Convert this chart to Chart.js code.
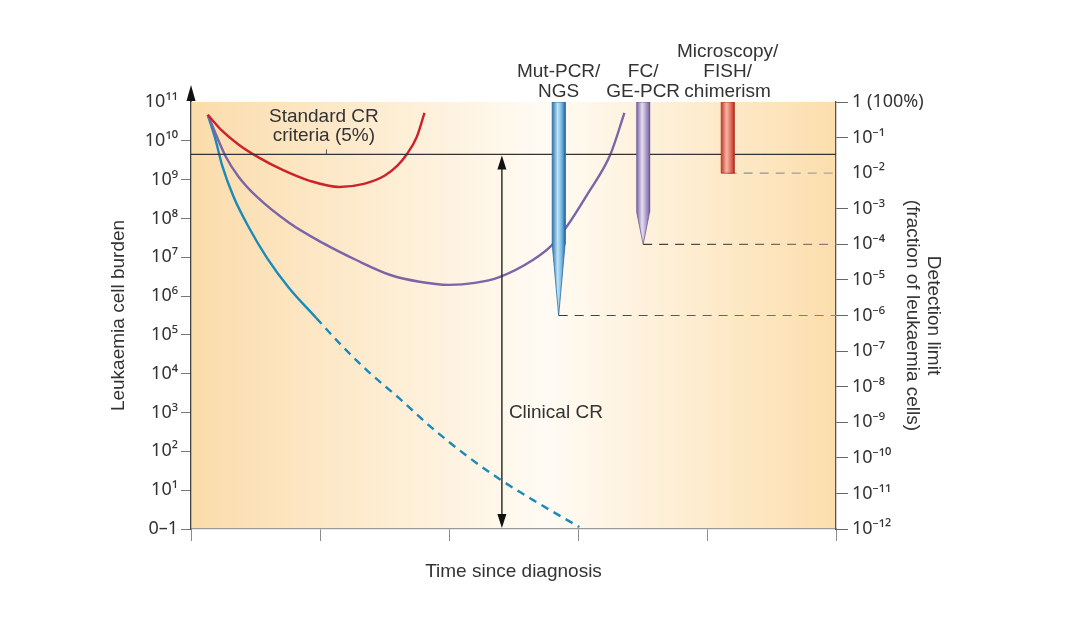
<!DOCTYPE html>
<html><head><meta charset="utf-8">
<script src="https://cdn.jsdelivr.net/npm/chart.js@4.4.1/dist/chart.umd.min.js"></script>
<style>html,body{margin:0;padding:0;background:#fff;}#wrap{width:1072px;height:624px;}</style>
</head><body><div id="wrap"><canvas id="c" width="1072" height="624"></canvas></div>
<script>
// ---------- data (log10 values) ----------
const leftTickLabels  = ['0–1','10¹','10²','10³','10⁴','10⁵','10⁶','10⁷','10⁸','10⁹','10¹⁰','10¹¹']; // log10 cells 0..11
const rightTickLabels = ['10⁻¹²','10⁻¹¹','10⁻¹⁰','10⁻⁹','10⁻⁸','10⁻⁷','10⁻⁶','10⁻⁵','10⁻⁴','10⁻³','10⁻²','10⁻¹','1 (100%)']; // log10 fraction -12..0
const standardCR = 9.65; // 5% of leukaemia burden (log10 cells)

const redTime = [0.13, 0.24, 0.37, 0.53, 0.71, 0.92, 1.15, 1.34, 1.50, 1.60, 1.67, 1.75, 1.81];
const redLog  = [10.67, 10.26, 9.90, 9.56, 9.25, 8.97, 8.81, 8.89, 9.10, 9.36, 9.64, 10.10, 10.72];

const purpleTime = [0.13, 0.27, 0.37, 0.51, 0.76, 1.02, 1.28, 1.54, 1.77, 2.00, 2.20, 2.39, 2.65, 2.80, 2.91, 3.07, 3.25, 3.36];
const purpleLog  = [10.67, 9.59, 9.07, 8.56, 7.89, 7.37, 6.93, 6.55, 6.37, 6.29, 6.34, 6.49, 6.93, 7.32, 7.78, 8.61, 9.64, 10.72];

const blueTime = [0.13, 0.19, 0.24, 0.33, 0.45, 0.59, 0.76, 0.97];
const blueLog  = [10.67, 10.03, 9.38, 8.56, 7.76, 6.98, 6.21, 5.44];
const blueDashTime = [0.97, 1.15, 1.36, 1.62, 1.87, 2.14, 2.39, 2.65, 3.01];
const blueDashLog  = [5.44, 4.79, 4.10, 3.35, 2.60, 1.88, 1.29, 0.75, 0.05];

const methods = [['Mut-PCR/','NGS'], ['FC/','GE-PCR'], ['Microscopy/','FISH/','chimerism']];
const methodTime = [2.85, 3.505, 4.16];
const detectionLimit = [-6, -4, -2]; // log10 fraction of leukaemia cells

// ---------- styles ----------
const FONT = '"Liberation Sans", Arial, sans-serif';
const TICKFONT = '"Noto Sans", "DejaVu Sans", sans-serif';
const TXT = '#333333';
const needleW = 0.1;               // needle width in time units
const needleTaper = [2.0, 0.9, 0]; // taper length (decades)
const needleGrad = [
  ['#2c74ae','#bfe3f7','#7cbbe4','#2a70a9'],
  ['#7a66a6','#e6def2','#b3a4cf','#76629f'],
  ['#c23b2b','#f7b6a6','#e27a66','#bd3727']
];
const needleEdge = ['#2a6ea6','#6f5c99','#b3362a'];

const pts = (xs, ys) => xs.map((v, i) => ({x: v, y: ys[i]}));

function needlePts(i){
  const xc = methodTime[i], lim = detectionLimit[i], t = needleTaper[i], h = needleW / 2;
  if (t === 0) return [{x:xc-h,y:0},{x:xc+h,y:0},{x:xc+h,y:lim},{x:xc-h,y:lim},{x:xc-h,y:0}];
  return [{x:xc-h,y:0},{x:xc+h,y:0},{x:xc+h,y:lim+t},{x:xc,y:lim},{x:xc-h,y:lim+t},{x:xc-h,y:0}];
}
function needleFill(i){
  return (ctx) => {
    const c = ctx.chart, xs = c.scales && c.scales.x;
    if (!xs || !c.chartArea) return needleGrad[i][0];
    const l = xs.getPixelForValue(methodTime[i] - needleW/2), r = xs.getPixelForValue(methodTime[i] + needleW/2);
    const g = c.ctx.createLinearGradient(l, 0, r, 0);
    g.addColorStop(0, needleGrad[i][0]); g.addColorStop(0.42, needleGrad[i][1]);
    g.addColorStop(0.7, needleGrad[i][2]); g.addColorStop(1, needleGrad[i][3]);
    return g;
  };
}
function dashFill(i){
  return (ctx) => {
    const c = ctx.chart, xs = c.scales && c.scales.x;
    if (!xs || !c.chartArea) return '#777';
    const g = c.ctx.createLinearGradient(xs.getPixelForValue(methodTime[i]), 0, xs.getPixelForValue(5), 0);
    g.addColorStop(0, i === 2 ? '#8a8a8a' : '#3a3a3a'); g.addColorStop(1, i === 2 ? '#b0a898' : '#8a857c');
    return g;
  };
}

const datasets = [];
methodTime.forEach((m, i) => {
  datasets.push({ data: needlePts(i), yAxisID: 'y2', fill: 'shape', backgroundColor: needleFill(i),
    borderColor: needleEdge[i], borderWidth: 0.8, pointRadius: 0, tension: 0, order: 0 });
});
methodTime.forEach((m, i) => {
  datasets.push({ data: [{x: m, y: detectionLimit[i]}, {x: 5, y: detectionLimit[i]}], yAxisID: 'y2',
    borderColor: dashFill(i), borderWidth: 1.2, borderDash: [9, 7], pointRadius: 0, fill: false, order: 1 });
});
datasets.push({ data: [{x:0, y:standardCR}, {x:5, y:standardCR}], yAxisID: 'y', borderColor: '#333', borderWidth: 1.3, pointRadius: 0, fill: false, order: 2 });
datasets.push({ data: pts(redTime, redLog), yAxisID: 'y', borderColor: '#cc2229', borderWidth: 2.4, pointRadius: 0, cubicInterpolationMode: 'monotone', fill: false, order: 3 });
datasets.push({ data: pts(purpleTime, purpleLog), yAxisID: 'y', borderColor: '#7b64a8', borderWidth: 2.4, pointRadius: 0, cubicInterpolationMode: 'monotone', fill: false, order: 3 });
datasets.push({ data: pts(blueTime, blueLog), yAxisID: 'y', borderColor: '#1c8ab8', borderWidth: 2.4, pointRadius: 0, cubicInterpolationMode: 'monotone', fill: false, order: 3 });
datasets.push({ data: pts(blueDashTime, blueDashLog), yAxisID: 'y', borderColor: '#1c8ab8', borderWidth: 2.4, borderDash: [8, 6], pointRadius: 0, cubicInterpolationMode: 'monotone', fill: false, order: 3 });

const overlay = {
  id: 'overlay',
  beforeDraw(chart){
    const {ctx, chartArea: a} = chart;
    const g = ctx.createLinearGradient(a.left, 0, a.right, 0);
    g.addColorStop(0, '#fbdcab'); g.addColorStop(0.55, '#fffbf4'); g.addColorStop(1, '#fcdead');
    ctx.save(); ctx.fillStyle = g; ctx.fillRect(a.left, a.top, a.right - a.left, a.bottom - a.top); ctx.restore();
  },
  afterDatasetsDraw(chart){
    const {ctx, chartArea: a, scales: {x, y}} = chart;
    ctx.save();
    // left axis arrow
    ctx.strokeStyle = '#333'; ctx.lineWidth = 1.3;
    ctx.beginPath(); ctx.moveTo(a.left, a.top); ctx.lineTo(a.left, a.top - 6); ctx.stroke();
    ctx.fillStyle = '#111';
    ctx.beginPath(); ctx.moveTo(a.left, a.top - 17); ctx.lineTo(a.left - 4.5, a.top - 1); ctx.lineTo(a.left + 4.5, a.top - 1); ctx.closePath(); ctx.fill();
    // standard CR label
    const yCR = y.getPixelForValue(standardCR);
    ctx.strokeStyle = '#555'; ctx.lineWidth = 1;
    const tx = x.getPixelForValue(1.05);
    ctx.beginPath(); ctx.moveTo(tx, yCR); ctx.lineTo(tx, yCR - 5); ctx.stroke();
    ctx.fillStyle = TXT; ctx.font = '19px ' + FONT; ctx.textAlign = 'center'; ctx.textBaseline = 'middle';
    const sx = x.getPixelForValue(1.03);
    ctx.fillText('Standard CR', sx, a.top + 15);
    ctx.fillText('criteria (5%)', sx, a.top + 34);
    // clinical CR double arrow
    const ax = x.getPixelForValue(2.41), yb = y.getPixelForValue(0);
    ctx.strokeStyle = '#222'; ctx.lineWidth = 1.4;
    ctx.beginPath(); ctx.moveTo(ax, yCR + 10); ctx.lineTo(ax, yb - 10); ctx.stroke();
    ctx.fillStyle = '#111';
    ctx.beginPath(); ctx.moveTo(ax, yCR + 1); ctx.lineTo(ax - 4.5, yCR + 15); ctx.lineTo(ax + 4.5, yCR + 15); ctx.closePath(); ctx.fill();
    ctx.beginPath(); ctx.moveTo(ax, yb - 1); ctx.lineTo(ax - 4.5, yb - 15); ctx.lineTo(ax + 4.5, yb - 15); ctx.closePath(); ctx.fill();
    ctx.fillStyle = TXT; ctx.textAlign = 'left';
    ctx.fillText('Clinical CR', ax + 7, y.getPixelForValue(3.0));
    // method labels
    ctx.textAlign = 'center';
    methods.forEach((lines, i) => {
      const mx = x.getPixelForValue(methodTime[i]);
      lines.forEach((s, k) => {
        ctx.fillText(s, mx, a.top - 10 - (lines.length - 1 - k) * 20);
      });
    });
    ctx.restore();
  }
};

Chart.defaults.font.family = FONT;
Chart.defaults.color = TXT;

new Chart(document.getElementById('c'), {
  type: 'line',
  data: { datasets },
  options: {
    responsive: false, animation: false,
    layout: { padding: { left: 0, right: 0, top: 102, bottom: 0 } },
    plugins: { legend: { display: false }, tooltip: { enabled: false } },
    scales: {
      x: { type: 'linear', min: 0, max: 5,
        ticks: { stepSize: 1, callback: () => '' },
        grid: { drawOnChartArea: false, tickLength: 12, color: '#8c8c8c', tickColor: '#8c8c8c' },
        border: { color: '#9a9a9a', width: 1.3 },
        title: { display: true, text: 'Time since diagnosis', font: { size: 19 }, color: TXT, padding: { top: 0, bottom: 41 } },
        afterFit: s => { s.height = 95; } },
      y: { type: 'linear', position: 'left', min: 0, max: 11,
        ticks: { stepSize: 1, autoSkip: false, padding: 3, font: { size: 18, family: TICKFONT }, color: TXT, callback: v => leftTickLabels[v] },
        grid: { drawOnChartArea: false, tickLength: 10, tickColor: c => (c.tick && c.tick.value === 11) ? 'rgba(0,0,0,0)' : '#777' },
        border: { color: '#444', width: 1.3 },
        title: { display: true, text: 'Leukaemia cell burden', font: { size: 19 }, color: TXT, padding: { top: 107 } },
        afterFit: s => { s.width = 191; } },
      y2: { type: 'linear', position: 'right', min: -12, max: 0,
        ticks: { stepSize: 1, autoSkip: false, padding: 4, font: { size: 18, family: TICKFONT }, color: TXT, callback: v => rightTickLabels[v + 12] },
        grid: { drawOnChartArea: false, tickLength: 12, tickColor: c => (c.tick && c.tick.value === -2) ? 'rgba(0,0,0,0)' : '#666' },
        border: { color: '#555', width: 1.3 },
        title: { display: true, text: ['Detection limit', '(fraction of leukaemia cells)'], font: { size: 19, lineHeight: 1.1 }, color: TXT, padding: { top: 128 } },
        afterFit: s => { s.width = 236; } }
    }
  },
  plugins: [overlay]
});
</script></body></html>
